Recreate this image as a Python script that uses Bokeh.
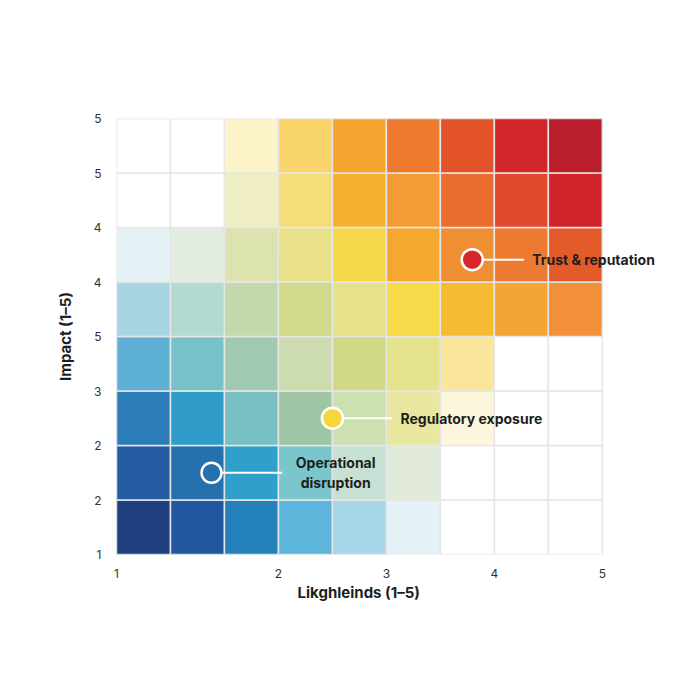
from bokeh.plotting import figure
from bokeh.models import ColumnDataSource, FixedTicker, Range1d, Title
from bokeh.core.properties import value
from bokeh.embed import file_html
from bokeh.resources import INLINE

# Heat-map cell colours, rows from bottom (row 0) to top (row 7), 9 columns each
row_colors = [
    ["#1F3F7F", "#21579E", "#2480BA", "#5DB5DB", "#A5D5E6", "#E3F2F7", "#FFFFFF", "#FFFFFF", "#FFFFFF"],
    ["#245DA1", "#2570AD", "#2EA0CB", "#7BC6CC", "#C7E0D4", "#E2EBDA", "#FFFFFF", "#FFFFFF", "#FFFFFF"],
    ["#2B7DB7", "#2E9BC8", "#79C0C4", "#9FC6A4", "#CDE0B0", "#E8E69F", "#FCF7DC", "#FFFFFF", "#FFFFFF"],
    ["#5EB0D4", "#79C1C8", "#A1C9B1", "#CCDCAF", "#D2D985", "#E6E38F", "#F9E69A", "#FFFFFF", "#FFFFFF"],
    ["#A6D4E2", "#B4D9D2", "#C3D8AC", "#D1D98A", "#E7E289", "#F7DA4A", "#F6BB31", "#F3A635", "#F28F3A"],
    ["#E5F2F5", "#E1EDDF", "#DDE3AE", "#E9E08A", "#F7D84C", "#F5A830", "#EE8F33", "#EC7A30", "#E45B2A"],
    ["#FFFFFF", "#FFFFFF", "#EFEDC4", "#F5DE78", "#F5B12F", "#F29C33", "#E96D2E", "#E0492B", "#D0222A"],
    ["#FFFFFF", "#FFFFFF", "#FDF3C8", "#F9D46A", "#F5A630", "#EE7B2D", "#E2532A", "#D1252A", "#B81E2C"],
]

# Axis ticks (positions in cell units) and their labels
x_tick_pos = [0, 3, 5, 7, 9]
x_tick_labels = ["1", "2", "3", "4", "5"]
y_tick_pos = [0, 1, 2, 3, 4, 5, 6, 7, 8]
y_tick_labels = ["1", "2", "2", "3", "5", "4", "4", "5", "5"]

# Risk markers (cell units)
risk_names = ["Operational\ndisruption", "Regulatory exposure", "Trust & reputation"]
risk_x = [1.76, 4.0, 6.59]
risk_y = [1.5, 2.5, 5.41]
risk_fill = [None, "#F5D63D", "#D9262A"]

xs, ys, cs = [], [], []
for r, row in enumerate(row_colors):
    for c, col in enumerate(row):
        xs.append(c + 0.5)
        ys.append(r + 0.5)
        cs.append(col)
cells = ColumnDataSource(dict(x=xs, y=ys, color=cs))

# frame extends past the grid (x 0..10.8) so the right-hand label is not clipped
p = figure(width=700, height=700, output_backend="svg", toolbar_location=None,
           x_range=Range1d(0, 10.8), y_range=Range1d(0, 8),
           min_border_left=116, min_border_right=1, min_border_top=118, min_border_bottom=146)
p.outline_line_color = None
p.grid.visible = False
p.background_fill_color = "white"

p.rect(x="x", y="y", width=1, height=1, fill_color="color", line_color="#E6E6E6",
       line_width=1.5, source=cells)

# markers and leader lines
ann_line_end = [3.07, 5.1, 7.55]
for i in range(3):
    p.segment(x0=risk_x[i] + 0.2, y0=risk_y[i], x1=ann_line_end[i], y1=risk_y[i],
              line_color="white", line_width=2)
p.scatter(x=[risk_x[0]], y=[risk_y[0]], size=20, fill_alpha=0, line_color="white", line_width=2.5)
p.scatter(x=risk_x[1:], y=risk_y[1:], size=21, fill_color=risk_fill[1:], line_color="white", line_width=2.5)

fnt = value("Inter")
p.text(x=[4.06], y=[risk_y[0]], text=[risk_names[0]], text_font=fnt, text_font_size="14px",
       text_font_style="bold", text_color="#1E1E1E", text_align="center", text_baseline="middle",
       text_line_height=1.2)
p.text(x=[5.26, 7.7], y=[risk_y[1], risk_y[2]], text=risk_names[1:], text_font=fnt,
       text_font_size="14px", text_font_style="bold", text_color="#1E1E1E",
       text_align="left", text_baseline="middle")

p.xaxis.ticker = FixedTicker(ticks=x_tick_pos)
p.xaxis.major_label_overrides = {t: l for t, l in zip(x_tick_pos, x_tick_labels)}
p.yaxis.ticker = FixedTicker(ticks=y_tick_pos)
p.yaxis.major_label_overrides = {t: l for t, l in zip(y_tick_pos, y_tick_labels)}
for ax in (p.xaxis, p.yaxis):
    ax.axis_line_color = None
    ax.major_tick_line_color = None
    ax.minor_tick_line_color = None
    ax.major_label_text_font = "Inter"
    ax.major_label_text_font_size = "12px"
    ax.major_label_text_color = "#333333"
    ax.axis_label_text_font = "Inter"
    ax.axis_label_text_font_size = "15px"
    ax.axis_label_text_font_style = "bold"
    ax.axis_label_text_color = "#1E1E1E"
p.xaxis.major_label_standoff = 8
p.yaxis.major_label_standoff = 9
p.yaxis.axis_label = "Impact (1–5)"
p.yaxis.axis_label_standoff = 16

# x-axis title centred under the grid (grid spans 0..9 of the 0..10.8 frame)
p.add_layout(Title(text="Likghleinds (1–5)", align="left", offset=181, text_font="Inter",
                   text_font_size="15px", text_font_style="bold", text_color="#1E1E1E",
                   standoff=0), "below")

open("out.html", "w").write(file_html(p, INLINE))
